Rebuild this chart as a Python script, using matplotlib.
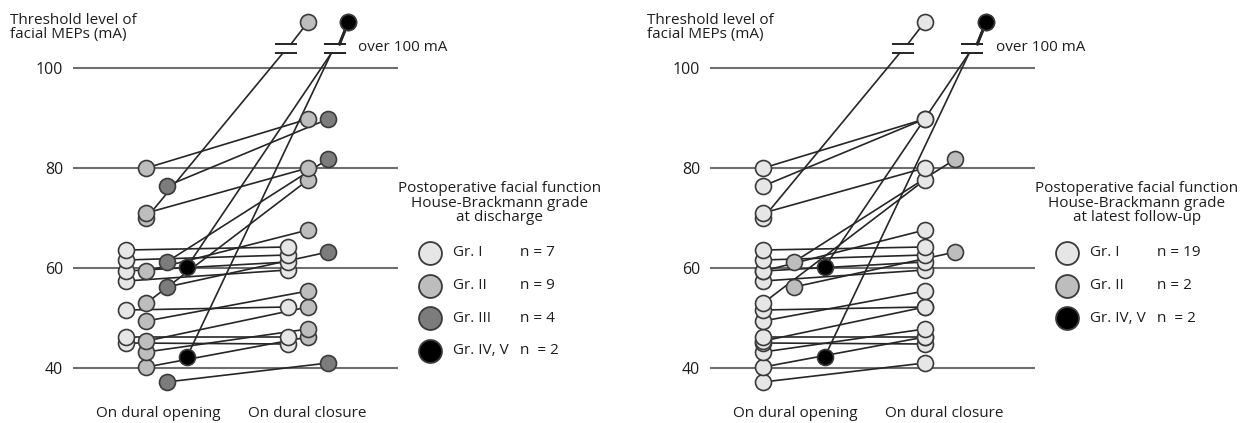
import numpy as np
import matplotlib
matplotlib.use('Agg')
import matplotlib.pyplot as plt

plt.rcParams['font.family'] = ['Open Sans', 'DejaVu Sans']

# threshold (mA) on dural opening / closure, nan = over 100 mA
opening = [63.6, 61.6, 59.4, 57.4, 51.6, 46.2, 45.0,
           80.0, 71.0, 70.0, 59.4, 53.0, 49.4, 45.4, 43.2, 40.2,
           76.4, 61.2, 56.2, 37.2,
           60.2, 42.2]
closure = [64.2, 62.6, 61.2, 59.6, 52.2, 46.2, 44.8,
           89.8, 80.0, np.nan, 67.6, 77.6, 55.4, 52.2, 47.8, 46.2,
           89.8, 81.8, 63.2, 41.0,
           np.nan, np.nan]
grade_discharge = [1]*7 + [2]*9 + [3]*4 + [4]*2
grade_followup = [1]*7 + [1]*9 + [1, 2, 2, 1] + [4, 4]

grade_labels = {1: 'Gr. I', 2: 'Gr. II', 3: 'Gr. III', 4: 'Gr. IV, V'}
n_discharge = {1: 'n = 7', 2: 'n = 9', 3: 'n = 4', 4: 'n  = 2'}
n_followup = {1: 'n = 19', 2: 'n = 2', 4: 'n  = 2'}
yticks = [40, 60, 80, 100]

colors = {1: '#e6e6e6', 2: '#bdbdbd', 3: '#7c7c7c', 4: '#000000'}
edge = '#3a3a3a'
txt = '#1e1e1e'
fs = 11

W, H = 1242, 423
fig = plt.figure(figsize=(W / 100, H / 100), dpi=100)


def px(x, y):
    return x / W, 1 - y / H


def panel(ax_left, ax_width, grades, groups, step, nlab, leg_title, leg_x, leg_c):
    ax = fig.add_axes([ax_left / W, 0, ax_width / W, 1])
    ax.set_xlim(-0.33, -0.33 + ax_width / 161.5)
    ax.set_ylim(29, 113.6)
    for s in ax.spines.values():
        s.set_visible(False)
    ax.set_xticks([])
    ax.set_yticks(yticks)
    ax.set_yticklabels([str(v) for v in yticks], fontsize=fs + 0.5, color=txt)
    ax.tick_params(axis='y', length=0, pad=7)
    ax.hlines(yticks, -0.33, 1.685, color='#6e6e6e', lw=1.5, zorder=1)

    col = {g: i * step for i, g in enumerate(groups)}
    y_lo, y_hi, y_top = 103.0, 104.8, 109.2
    order = np.argsort(opening)
    for i in order:
        g = grades[i]
        x0 = col[g]
        x1 = 1 + col[g]
        if np.isnan(closure[i]):
            bx = x1 - (0.085 if g == 4 else 0.135)
            ax.plot([x0, bx - 0.02], [opening[i], y_lo], color='#262626', lw=1.2, zorder=2)
            ax.plot([bx + 0.03, x1], [y_hi, y_top], color='#262626',
                    lw=2.0 if g == 4 else 1.2, zorder=2)
            ax.hlines([y_lo, y_hi], bx - 0.068, bx + 0.068, color='#262626', lw=1.4, zorder=2)
            ax.plot(x1, y_top, 'o', ms=11.5, mfc=colors[g], mec=edge, mew=1.2, zorder=4)
        else:
            ax.plot([x0, x1], [opening[i], closure[i]], color='#262626', lw=1.2, zorder=2)
    for i in order:
        g = grades[i]
        ax.plot(col[g], opening[i], 'o', ms=11.5, mfc=colors[g], mec=edge, mew=1.2, zorder=3)
    for i in np.argsort(np.nan_to_num(closure, nan=0)):
        if not np.isnan(closure[i]):
            g = grades[i]
            ax.plot(1 + col[g], closure[i], 'o', ms=11.5, mfc=colors[g], mec=edge, mew=1.2, zorder=3)

    ax.text(1 + col[groups[-1]] + 0.06, 104.0, 'over 100 mA', fontsize=fs, color=txt,
            va='center', ha='left')
    ax.text(0.2, 31.0, 'On dural opening', fontsize=fs, color=txt, ha='center', va='center')
    ax.text(1.12, 31.0, 'On dural closure', fontsize=fs, color=txt, ha='center', va='center')
    ax.text(-0.33 - 63 / 161.5, 110.9, 'Threshold level of\nfacial MEPs (mA)', fontsize=fs,
            color=txt, ha='left', va='top', linespacing=0.85)

    # legend
    fx, fy = px(leg_c, 203)
    fig.text(fx, fy, leg_title, fontsize=fs, color=txt, ha='center', va='center',
             linespacing=0.92)
    for k, g in enumerate(groups):
        yy = 253 + k * 32.5
        cx, cy = px(leg_x, yy)
        ax.plot(cx, cy, 'o', ms=16.5, mfc=colors[g], mec=edge, mew=1.3,
                transform=fig.transFigure, clip_on=False, zorder=5)
        tx, ty = px(leg_x + 23, yy)
        fig.text(tx, ty, grade_labels[g], fontsize=fs, color=txt, va='center')
        tx, ty = px(leg_x + 90, yy)
        fig.text(tx, ty, nlab[g], fontsize=fs, color=txt, va='center')
    return ax


panel(73, 547, grade_discharge, [1, 2, 3, 4], 0.125, n_discharge,
      'Postoperative facial function\nHouse-Brackmann grade\nat discharge', 430, 500)
panel(710, 532, grade_followup, [1, 2, 4], 0.19, n_followup,
      'Postoperative facial function\nHouse-Brackmann grade\nat latest follow-up', 1067, 1137)

fig.savefig('out.png', dpi=100)
